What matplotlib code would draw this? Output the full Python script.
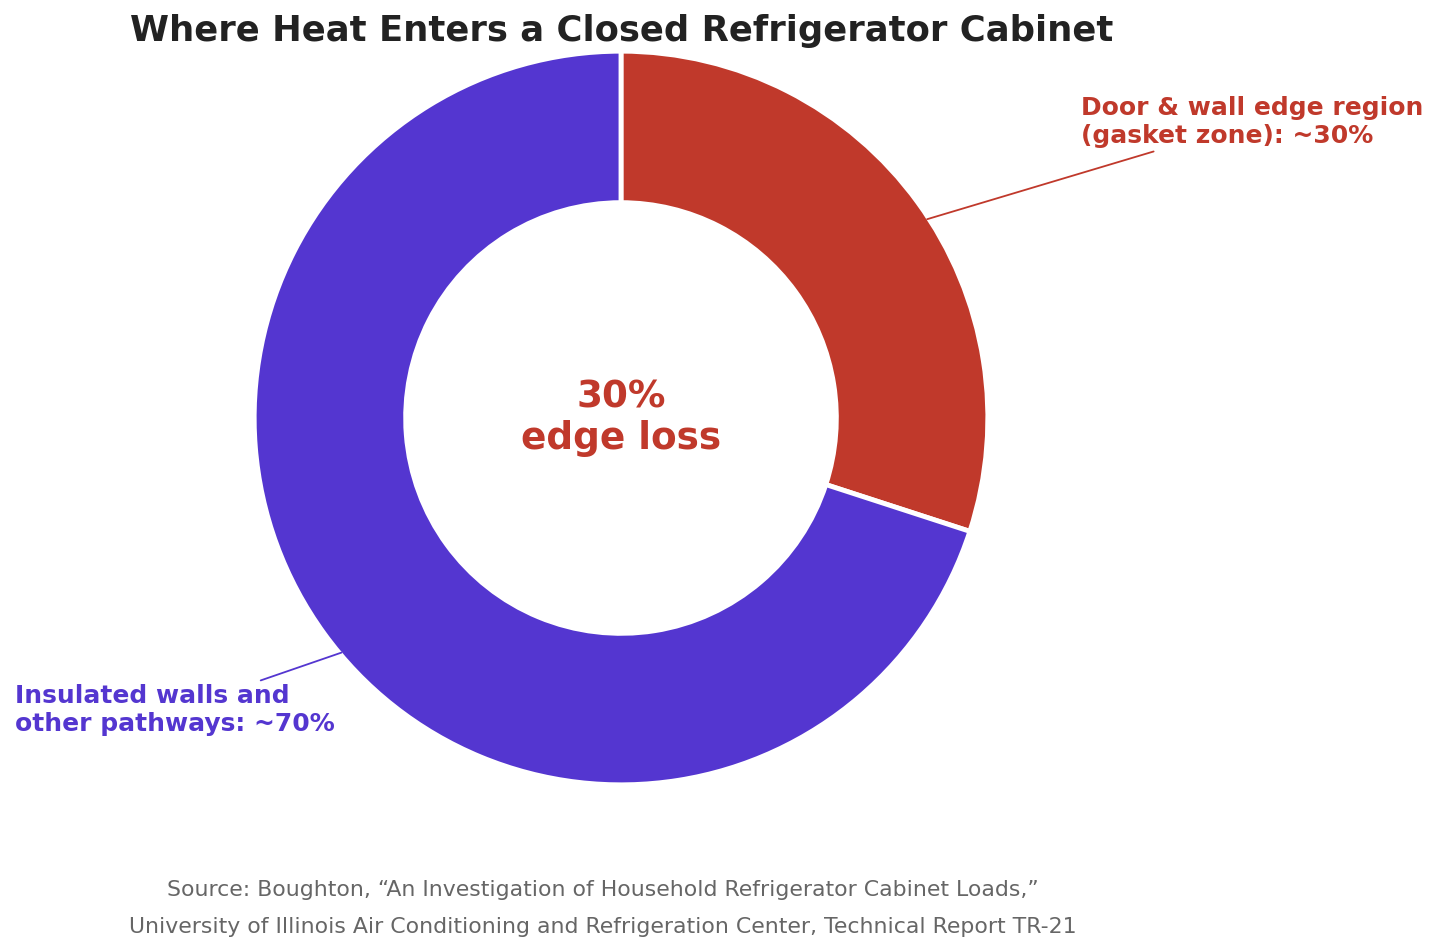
import numpy as np
import matplotlib
matplotlib.use("Agg")
import matplotlib.pyplot as plt

labels = ["Door & wall edge region\n(gasket zone): ~30%", "Insulated walls and\nother pathways: ~70%"]
values = [30, 70]
colors = ["#c0392b", "#5436d0"]
title = "Where Heat Enters a Closed Refrigerator Cabinet"
center_label = "30%\nedge loss"
source_lines = ["Source: Boughton, \u201cAn Investigation of Household Refrigerator Cabinet Loads,\u201d",
                "University of Illinois Air Conditioning and Refrigeration Center, Technical Report TR-21"]

W, H = 1438, 952
cx, cy, R = 621, 418, 365
fig = plt.figure(figsize=(W / 100, H / 100), dpi=100)
ax = fig.add_axes([0, 0, 1, 1])

wedges, _ = ax.pie(values, colors=colors, startangle=90, counterclock=False,
                   radius=1.005, wedgeprops=dict(width=0.415, edgecolor="white", linewidth=3.5),
                   frame=True)
ax.set_xlim((0 - cx) / R, (W - cx) / R)
ax.set_ylim(-(H - cy) / R, cy / R)
ax.axis("off")

ax.text(0, 0, center_label, ha="center", va="center", fontsize=26.9, fontweight="bold",
        color=colors[0], linespacing=1.15)

# annotations
anchors = [33, 220]
text_pos = [((1081 - cx) / R, (cy - 122) / R, "left"), ((15 - cx) / R, (cy - 710) / R, "left")]
for lab, col, ang, (tx, ty, ha) in zip(labels, colors, anchors, text_pos):
    a = np.deg2rad(ang)
    ax.annotate(lab, xy=(np.cos(a), np.sin(a)), xytext=(tx, ty), ha=ha, va="center",
                fontsize=18, fontweight="bold", color=col, linespacing=1.2,
                arrowprops=dict(arrowstyle="-", color=col, lw=1.3, shrinkA=2, shrinkB=0))

fig.text(621.5 / W, 1 - 31 / H, title, ha="center", va="center", fontsize=25.5,
         fontweight="bold", color="#222222")
fig.text(603 / W, 1 - 890 / H, source_lines[0], ha="center", va="center", fontsize=15.8, color="#666666")
fig.text(603 / W, 1 - 927 / H, source_lines[1], ha="center", va="center", fontsize=15.8, color="#666666")

fig.savefig("out.png", dpi=100)
